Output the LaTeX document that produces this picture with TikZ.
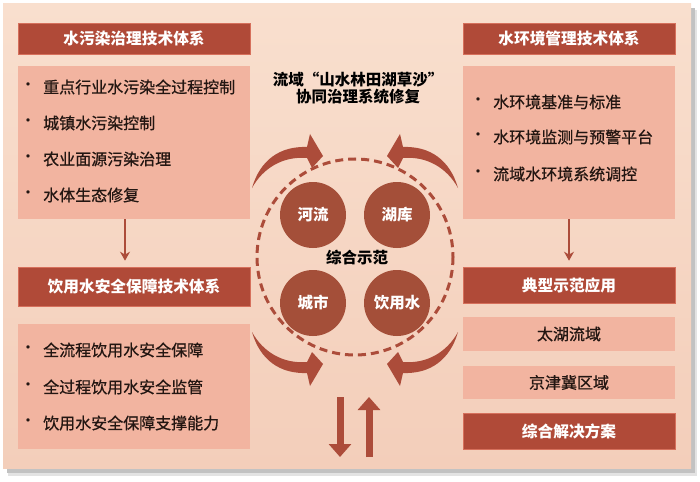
\documentclass[tikz,border=0pt]{standalone}
\usepackage{fontspec}
\newfontfamily\cjk{Noto Sans CJK SC}
\newfontfamily\cjkitem[FakeBold=0.8]{Noto Sans CJK SC}
\usetikzlibrary{arrows.meta}
\definecolor{hdr}{RGB}{176,74,56}
\definecolor{hdredge}{RGB}{214,112,92}
\definecolor{boxc}{RGB}{242,180,160}
\definecolor{circc}{RGB}{164,79,57}
\definecolor{arr}{RGB}{172,76,58}
\definecolor{txt}{RGB}{35,22,18}
\definecolor{pantop}{RGB}{249,223,206}
\definecolor{panbot}{RGB}{243,206,186}
\begin{document}
\begin{tikzpicture}[x=1pt,y=-1pt,
  hdrbox/.style={fill=hdr,draw=hdredge,line width=0.6pt,text=white,inner sep=0pt,
    font=\cjk\bfseries\fontsize{15.7}{18}\selectfont},
  lightbox/.style={fill=boxc,draw=none,inner sep=0pt,text=txt,
    font=\cjkitem\fontsize{16}{18}\selectfont},
  itemtext/.style={anchor=west,inner sep=0pt,text=txt,font=\cjkitem\fontsize{16}{18}\selectfont},
  bullet/.style={anchor=center,inner sep=0pt,text=txt,font=\cjk\fontsize{16}{18}\selectfont},
  circnode/.style={circle,fill=circc,text=white,minimum size=66pt,inner sep=0pt,
    font=\cjk\bfseries\fontsize{15.5}{18}\selectfont},
  boldlabel/.style={inner sep=0pt,text=black,align=center,font=\cjk\bfseries\fontsize{15.5}{17}\selectfont},
  connector/.style={draw=arr,line width=1.5pt,-{Stealth[length=9pt,width=10pt]}},
  bigarrow/.style={draw=arr,line width=7pt,-{Triangle[width=22pt,length=13pt]}},
  bendarrow/.pic={
    \fill[arr] (-103,-72) .. controls (-95,-100) and (-75,-114) .. (-48,-113)
      -- (-45,-126) -- (-32,-104) -- (-43,-92) -- (-48,-102)
      .. controls (-72,-104) and (-92,-92) .. (-103,-72) -- cycle;
  }]
\useasboundingbox (0,0) rectangle (700,481);
\fill[white] (0,0) rectangle (700,481);
% shadow and panel
\fill[gray!22] (8,10) rectangle (697,476);
\fill[gray!48] (7,8) rectangle (695,473);
\shade[top color=pantop,bottom color=panbot] (3,4) rectangle (691,468);

% left column
\node[hdrbox,minimum width=232pt,minimum height=31pt] (h1) at (134,38.5) {水污染治理技术体系};
\node[lightbox,minimum width=232pt,minimum height=153pt] (c1) at (134,142.5) {};
\node[bullet] (b11) at (28,87) {·};
\node[itemtext] (i11) at (43,87) {重点行业水污染全过程控制};
\node[bullet] (b12) at (28,123) {·};
\node[itemtext] (i12) at (43,123) {城镇水污染控制};
\node[bullet] (b13) at (28,159) {·};
\node[itemtext] (i13) at (43,159) {农业面源污染治理};
\node[bullet] (b14) at (28,195) {·};
\node[itemtext] (i14) at (43,195) {水体生态修复};

\node[hdrbox,minimum width=232pt,minimum height=39pt] (h2) at (134,286.5) {饮用水安全保障技术体系};
\node[lightbox,minimum width=232pt,minimum height=125pt] (c2) at (134,386.5) {};
\node[bullet] (b21) at (28,350) {·};
\node[itemtext] (i21) at (43,350) {全流程饮用水安全保障};
\node[bullet] (b22) at (28,387) {·};
\node[itemtext] (i22) at (43,387) {全过程饮用水安全监管};
\node[bullet] (b23) at (28,423) {·};
\node[itemtext] (i23) at (43,423) {饮用水安全保障支撑能力};

\draw[connector,shorten >=6pt] ([xshift=-9pt]c1.south) -- ([xshift=-9pt]h2.north);

% right column
\node[hdrbox,minimum width=212pt,minimum height=31pt] (h3) at (569,38.5) {水环境管理技术体系};
\node[lightbox,minimum width=212pt,minimum height=153pt] (c3) at (569,142.5) {};
\node[bullet] (b31) at (478,102) {·};
\node[itemtext] (i31) at (493,102) {水环境基准与标准};
\node[bullet] (b32) at (478,137) {·};
\node[itemtext] (i32) at (493,137) {水环境监测与预警平台};
\node[bullet] (b33) at (478,174) {·};
\node[itemtext] (i33) at (493,174) {流域水环境系统调控};

\node[hdrbox,minimum width=212pt,minimum height=36pt] (h4) at (569,285) {典型示范应用};
\node[lightbox,minimum width=212pt,minimum height=34pt] (r1) at (569,334) {太湖流域};
\node[lightbox,minimum width=212pt,minimum height=33pt] (r2) at (569,382.5) {京津冀区域};
\node[hdrbox,minimum width=212pt,minimum height=36pt] (r3) at (569,431) {综合解决方案};

\draw[connector,shorten >=6pt] (c3.south) -- (h4.north);

% centre
\node[boldlabel] (title) at (358,88.5) {流域“山水林田湖草沙”\\协同治理系统修复};
\draw[arr,line width=3pt,dash pattern=on 8pt off 5pt] (355,257) circle[radius=98];
\node[circnode] (river) at (313,215) {河流};
\node[circnode] (lake) at (397,215) {湖库};
\node[circnode] (city) at (313,303) {城市};
\node[circnode] (drink) at (397,303) {饮用水};
\node[boldlabel] (demo) at (357,258) {综合示范};

\pic at (355,260) {bendarrow};
\pic[xscale=-1] at (355,260) {bendarrow};
\pic[yscale=-1] at (355,260) {bendarrow};
\pic[xscale=-1,yscale=-1] at (355,260) {bendarrow};

\coordinate (dA) at (340,397);
\coordinate (dB) at (340,457);
\coordinate (uA) at (369,457);
\coordinate (uB) at (369,397);
\draw[bigarrow] (dA) -- (dB);
\draw[bigarrow] (uA) -- (uB);
\end{tikzpicture}
\end{document}
